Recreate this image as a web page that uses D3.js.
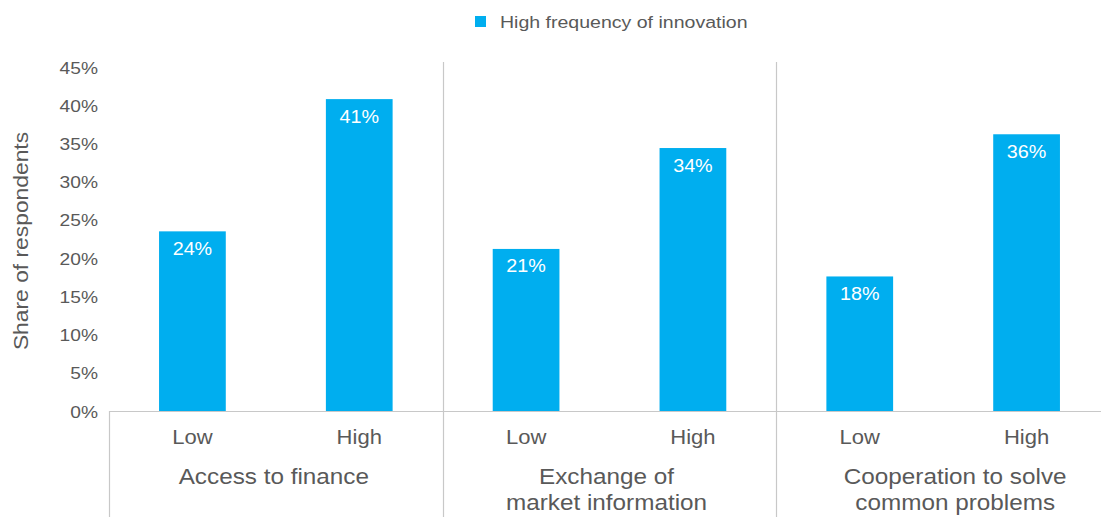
<!DOCTYPE html>
<html>
<head>
<meta charset="utf-8">
<script src="https://cdn.jsdelivr.net/npm/d3@7"></script>
<style>
  html, body { margin: 0; padding: 0; background: #fff; }
  svg { display: block; font-family: "Liberation Sans", Arial, Helvetica, sans-serif; }
</style>
</head>
<body>
<svg id="chart" width="1101" height="517"></svg>
<script>
// Chart data
const groups = ["Access to finance", "Exchange of\nmarket information", "Cooperation to solve\ncommon problems"];
const levels = ["Low", "High"];
const lowValues = [23.5, 21.2, 17.6];
const highValues = [40.8, 34.4, 36.2];
const yTicks = [0, 5, 10, 15, 20, 25, 30, 35, 40, 45];
const seriesName = "High frequency of innovation";
const axisTitle = "Share of respondents";

// Horizontal nudge of each group caption (px)
const captionShift = [-2, -3, 12];

const rows = groups.map((g, i) => ({ group: g, values: [lowValues[i], highValues[i]], shift: captionShift[i] }));

const BLUE = "#00aeef";
const TEXT = "#595959";
const RULE = "#c8c8c8";
const SX = 1.13; // horizontal glyph stretch of the text face

const svg = d3.select("#chart");
const plotLeft = 109, plotRight = 1110, plotTop = 67, plotBase = 411, plotBottom = 517;

const y = d3.scaleLinear().domain([0, 45]).range([plotBase, plotTop]);
const xGroup = d3.scaleBand().domain(groups).range([plotLeft, plotRight]).padding(0);
const xLevel = d3.scaleBand().domain(levels).range([0, xGroup.bandwidth()])
  .paddingInner(0.6).paddingOuter(0.3);

function stretchedText(sel, x, yy, size, anchor) {
  return sel.append("text")
    .attr("transform", `translate(${x},${yy}) scale(${SX},1)`)
    .attr("text-anchor", anchor || "middle")
    .attr("font-size", size)
    .attr("fill", TEXT);
}

// Y axis labels
const yAxis = d3.axisLeft(y).tickValues(yTicks).tickFormat(d => d + "%").tickSize(0).tickPadding(11);
const ya = svg.append("g").attr("transform", `translate(${plotLeft},0)`).call(yAxis);
ya.select(".domain").remove();
ya.selectAll(".tick text").remove();
ya.selectAll(".tick").each(function (d) {
  stretchedText(d3.select(this), -11, 6, 17, "end").text(d + "%");
});

// Axis title
svg.append("text")
  .attr("transform", `translate(28,241) rotate(-90) scale(${SX},1)`)
  .attr("text-anchor", "middle")
  .attr("font-size", 20.2)
  .attr("fill", TEXT)
  .text(axisTitle);

// Baseline and group separators
svg.append("line").attr("x1", plotLeft).attr("x2", 1101).attr("y1", plotBase + 0.5).attr("y2", plotBase + 0.5)
  .attr("stroke", RULE).attr("stroke-width", 1.2);
svg.append("line").attr("x1", plotLeft + 0.5).attr("x2", plotLeft + 0.5).attr("y1", plotBase).attr("y2", plotBottom)
  .attr("stroke", RULE).attr("stroke-width", 1.2);
groups.slice(1).forEach(g => {
  const gx = Math.round(xGroup(g)) + 0.5;
  svg.append("line").attr("x1", gx).attr("x2", gx).attr("y1", 62).attr("y2", plotBottom)
    .attr("stroke", RULE).attr("stroke-width", 1.2);
});

// Bars and value labels
const gSel = svg.selectAll(".grp").data(rows).enter().append("g")
  .attr("class", "grp")
  .attr("transform", d => `translate(${xGroup(d.group)},0)`);

gSel.each(function (d) {
  const g = d3.select(this);
  levels.forEach((lv, i) => {
    const v = d.values[i];
    const bx = xLevel(lv);
    g.append("rect")
      .attr("x", bx).attr("y", y(v))
      .attr("width", xLevel.bandwidth()).attr("height", y(0) - y(v))
      .attr("fill", BLUE);
    stretchedText(g, bx + xLevel.bandwidth() / 2, y(v) + 23.5, 17.5, "middle")
      .attr("fill", "#ffffff")
      .text(Math.round(v) + "%");
    stretchedText(g, bx + xLevel.bandwidth() / 2, 444, 19.5, "middle").text(lv);
  });
  const lines = d.group.split("\n");
  lines.forEach((ln, k) => {
    stretchedText(g, xGroup.bandwidth() / 2 + d.shift, 484 + k * 26, 21.5, "middle").text(ln);
  });
});

// Legend
const lg = svg.append("g").attr("transform", "translate(475,16)");
lg.append("rect").attr("x", 0).attr("y", 0).attr("width", 11).attr("height", 11).attr("fill", BLUE);
stretchedText(lg, 25, 11.5, 17.3, "start").text(seriesName);
</script>
</body>
</html>
